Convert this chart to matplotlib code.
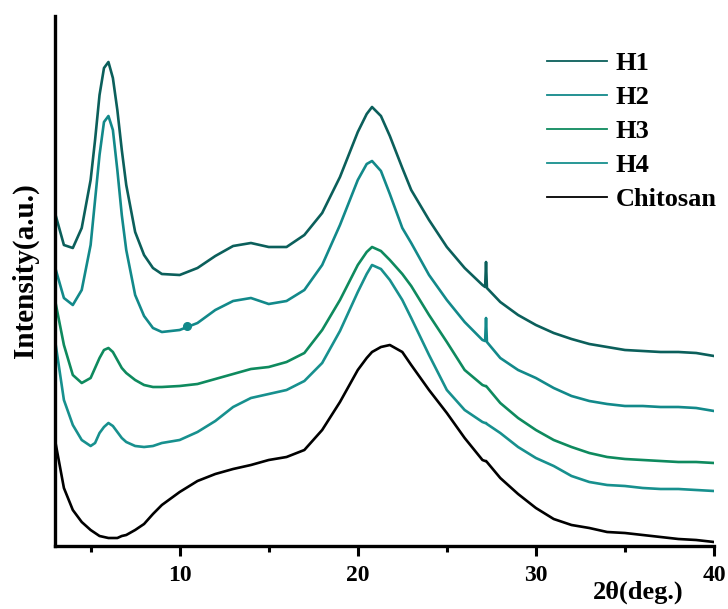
import matplotlib
matplotlib.use("Agg")
import matplotlib.pyplot as plt
from matplotlib.ticker import MultipleLocator

# 2theta grid (deg.) and intensities (a.u.)
two_theta = [3, 3.5, 4, 4.5, 5, 5.25, 5.5, 5.75, 6, 6.25, 6.5, 6.75, 7, 7.5, 8, 8.5, 9,
             10, 11, 12, 13, 14, 15, 16, 17, 18, 19, 20, 20.5, 20.8, 21.3, 21.8, 22.5,
             23, 24, 25, 26, 27, 27.15, 27.2, 27.25, 28, 29, 30, 31, 32, 33, 34, 35,
             36, 37, 38, 39, 40]

h1 = [333, 301, 298, 318, 366, 406, 451, 478, 484, 468, 436, 396, 361, 314, 291, 278, 272,
      271, 278, 290, 300, 303, 299, 299, 311, 333, 369, 414, 432, 439, 430, 410, 378,
      356, 326, 299, 278, 261, 259, 284, 258, 244, 231, 221, 213, 207, 202, 199, 196,
      195, 194, 194, 193, 190]

h2 = [279, 248, 241, 256, 301, 346, 391, 424, 430, 416, 376, 331, 296, 251, 230, 218, 214,
      216, 223, 236, 245, 248, 242, 245, 256, 281, 321, 366, 382, 385, 375, 352, 318,
      303, 271, 246, 224, 206, 205, 228, 204, 188, 176, 168, 158, 150, 145, 142, 140,
      140, 139, 139, 138, 135]

h3 = [246, 201, 171, 163, 168, 178, 188, 196, 198, 194, 186, 178, 173, 166, 161, 159, 159,
      160, 162, 167, 172, 177, 179, 184, 193, 216, 246, 281, 294, 299, 295, 286, 272,
      260, 231, 204, 176, 161, 160, 160, 159, 143, 128, 116, 106, 99, 93, 89, 87,
      86, 85, 84, 84, 83]

h4 = [206, 146, 121, 106, 100, 103, 113, 119, 123, 120, 114, 108, 104, 100, 99, 100, 103,
      106, 114, 125, 139, 148, 152, 156, 165, 183, 215, 254, 272, 281, 277, 266, 246,
      228, 191, 156, 136, 124, 123, 123, 122, 113, 99, 88, 80, 70, 64, 61, 60,
      58, 57, 57, 56, 55]

chitosan = [106, 58, 36, 24, 16, 13, 10, 9, 8, 8, 8, 10, 11, 16, 22, 32, 41,
            54, 65, 72, 77, 81, 86, 89, 96, 116, 144, 176, 188, 194, 199, 201, 194,
            181, 156, 133, 108, 86, 85, 85, 84, 68, 52, 38, 27, 21, 18, 14, 13,
            11, 9, 7, 6, 4]

# small blob sitting on the H2 trace
h2_dot_x = [10.4]
h2_dot_y = [220]

series = [("H1", h1, "#0b5f5b"),
          ("H2", h2, "#12898a"),
          ("H3", h3, "#0e8a5e"),
          ("H4", h4, "#17908e"),
          ("Chitosan", chitosan, "#000000")]

plt.rcParams["font.family"] = ["Liberation Serif", "DejaVu Serif"]
plt.rcParams["font.weight"] = "bold"

fig = plt.figure(figsize=(7.28, 6.09), dpi=100)
ax = fig.add_axes([55 / 728, 63 / 609, 659 / 728, 530 / 609])

for name, vals, col in series:
    ax.plot(two_theta, vals, color=col, lw=1.9, label=name)
ax.plot(h2_dot_x, h2_dot_y, "o", color="#12898a", ms=5.5)

ax.set_xlim(3, 40)
ax.set_ylim(0, 530)
ax.xaxis.set_major_locator(MultipleLocator(10))
ax.xaxis.set_minor_locator(MultipleLocator(5))
ax.set_yticks([])

for s in ["top", "right"]:
    ax.spines[s].set_visible(False)
for s in ["left", "bottom"]:
    ax.spines[s].set_linewidth(2.4)

ax.tick_params(axis="x", which="major", length=7, width=2.2, labelsize=17, pad=7)
ax.tick_params(axis="x", which="minor", length=4, width=2.2)
for lab in ax.get_xticklabels():
    lab.set_fontweight("bold")

ax.set_xlabel("2θ(deg.)", fontsize=19, fontweight="bold", va="top")
ax.xaxis.set_label_coords(0.885, -0.066)
ax.set_ylabel("Intensity(a.u.)", fontsize=21, fontweight="bold")
ax.yaxis.set_label_coords(-0.024, 0.52)

leg = ax.legend(loc="upper left", bbox_to_anchor=(523 / 728, 1 - 28 / 609),
                bbox_transform=fig.transFigure, frameon=False, fontsize=19,
                handlelength=2.3, handletextpad=0.3, labelspacing=0.4)
for line in leg.get_lines():
    line.set_linewidth(1.3)

fig.savefig("out.png", dpi=100)
